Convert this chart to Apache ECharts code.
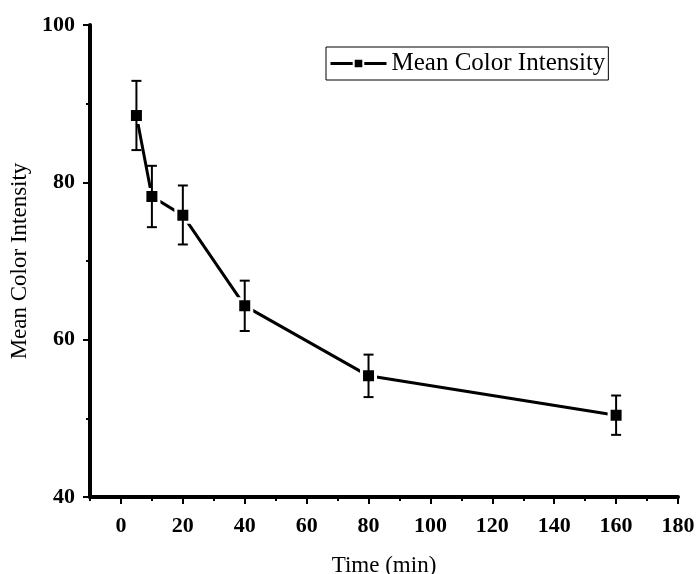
<!DOCTYPE html>
<html>
<head>
<meta charset="utf-8">
<script src="https://cdn.jsdelivr.net/npm/echarts@6/dist/echarts.min.js"></script>
<style>
  html, body { margin: 0; padding: 0; background: #fff; }
  #chart { width: 698px; height: 574px; }
</style>
</head>
<body>
<div id="chart"></div>
<script>
// data
const times = [5, 10, 20, 40, 80, 160];
const means = [88.5, 78.2, 75.8, 64.3, 55.4, 50.4];
const errUpper = [92.9, 82.1, 79.6, 67.5, 58.1, 52.9];
const errLower = [84.1, 74.3, 72.1, 61.1, 52.7, 47.9];
const xMajorTicks = [0, 20, 40, 60, 80, 100, 120, 140, 160, 180];
const xMinorTicks = [-10, 10, 30, 50, 70, 90, 110, 130, 150, 170];

const font = 'Liberation Serif';
const chart = echarts.init(document.getElementById('chart'));

const lineData = times.map((t, i) => [t, means[i]]);
const errData = times.map((t, i) => [t, errLower[i], errUpper[i]]);

const option = {
    animation: false,
    textStyle: { fontFamily: font, color: '#000' },
    grid: { left: 90, right: 20, top: 25, bottom: 77, containLabel: false, outerBoundsMode: 'none' },
    legend: {
        data: ['Mean Color Intensity'],
        left: 326,
        top: 47,
        orient: 'vertical',
        borderColor: '#000',
        borderWidth: 1,
        padding: [4, 3, 4, 3],
        itemWidth: 56,
        itemHeight: 12,
        itemGap: 6,
        lineStyle: { width: 3 },
        textStyle: { fontFamily: font, fontSize: 25, color: '#000' },
    },
    xAxis: [
        {
            type: 'value',
            min: -10,
            max: 180,
            interval: 10,
            name: 'Time (min)',
            nameLocation: 'middle',
            nameGap: 57,
            nameTextStyle: { fontFamily: font, fontSize: 23, color: '#000' },
            axisLine: { show: true, onZero: false, lineStyle: { color: '#000', width: 4 } },
            axisTick: {
                show: true,
                customValues: xMajorTicks,
                length: 7,
                lineStyle: { color: '#000', width: 2 },
            },
            axisLabel: {
                customValues: xMajorTicks,
                margin: 18,
                fontFamily: font,
                fontSize: 22,
                fontWeight: 'bold',
                color: '#000',
            },
            splitLine: { show: false },
        },
        {
            type: 'value',
            position: 'bottom',
            min: -10,
            max: 180,
            interval: 10,
            axisLine: { show: false, onZero: false },
            axisTick: {
                show: true,
                customValues: xMinorTicks,
                length: 4,
                lineStyle: { color: '#000', width: 2 },
            },
            axisLabel: { show: false },
            splitLine: { show: false },
        },
    ],
    yAxis: {
        type: 'value',
        min: 40,
        max: 100,
        interval: 20,
        name: 'Mean Color Intensity',
        nameLocation: 'middle',
        nameGap: 49,
        nameTextStyle: { fontFamily: font, fontSize: 23, color: '#000' },
        axisLine: { show: true, onZero: false, lineStyle: { color: '#000', width: 4 } },
        axisTick: { show: true, length: 7, lineStyle: { color: '#000', width: 2 } },
        minorTick: { show: true, splitNumber: 2, length: 4, lineStyle: { color: '#000', width: 2 } },
        axisLabel: {
            margin: 15,
            fontFamily: font,
            fontSize: 22,
            fontWeight: 'bold',
            color: '#000',
        },
        splitLine: { show: false },
    },
    series: [
        {
            name: 'Mean Color Intensity',
            type: 'line',
            xAxisIndex: 0,
            data: lineData,
            symbol: 'rect',
            symbolSize: 14,
            lineStyle: { color: '#000', width: 3 },
            itemStyle: { color: '#000', borderColor: '#fff', borderWidth: 3 },
            z: 2,
        },
        {
            name: 'error',
            type: 'custom',
            xAxisIndex: 0,
            data: errData,
            encode: { x: 0, y: [1, 2] },
            z: 3,
            renderItem: function (params, api) {
                const x = api.value(0);
                const top = api.coord([x, api.value(2)]);
                const bot = api.coord([x, api.value(1)]);
                const hw = 5;
                const st = { stroke: '#000', lineWidth: 2 };
                return {
                    type: 'group',
                    children: [
                        { type: 'line', shape: { x1: top[0], y1: top[1], x2: bot[0], y2: bot[1] }, style: st },
                        { type: 'line', shape: { x1: top[0] - hw, y1: top[1], x2: top[0] + hw, y2: top[1] }, style: st },
                        { type: 'line', shape: { x1: bot[0] - hw, y1: bot[1], x2: bot[0] + hw, y2: bot[1] }, style: st },
                    ],
                };
            },
        },
    ],
};

chart.setOption(option);
</script>
</body>
</html>
